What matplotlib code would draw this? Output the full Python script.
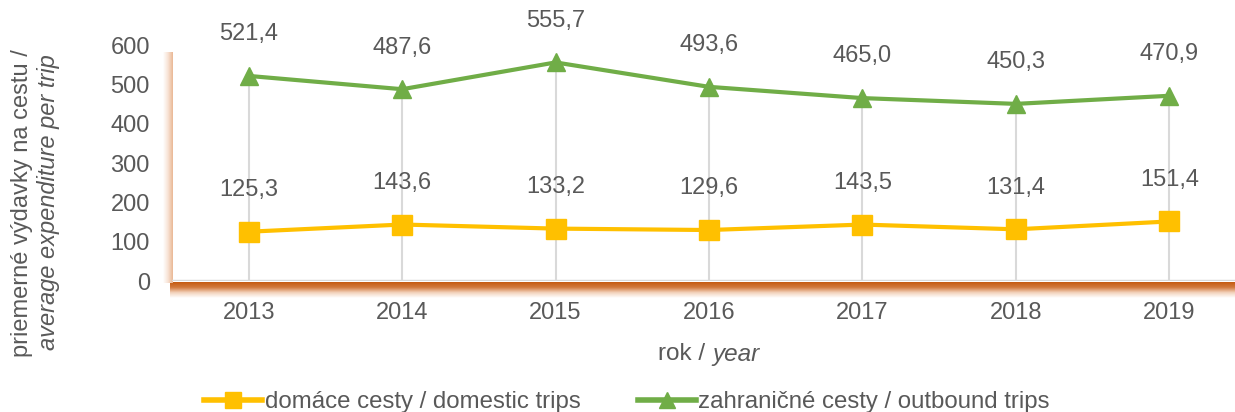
import numpy as np
import matplotlib
matplotlib.use("Agg")
import matplotlib.pyplot as plt
from matplotlib.lines import Line2D
from matplotlib.colors import LinearSegmentedColormap

plt.rcParams['font.family'] = ['Liberation Sans', 'DejaVu Sans']

# údaje
roky = ['2013', '2014', '2015', '2016', '2017', '2018', '2019']
domace = [125.3, 143.6, 133.2, 129.6, 143.5, 131.4, 151.4]
zahranicne = [521.4, 487.6, 555.7, 493.6, 465.0, 450.3, 470.9]
y_ticky = [0, 100, 200, 300, 400, 500, 600]

sivy = '#595959'
zlta = '#FFC000'
zelena = '#70AD47'

W, H = 1235, 412
fig = plt.figure(figsize=(W / 100, H / 100), dpi=100)
ax = fig.add_axes([172 / W, (H - 281) / H, 1074 / W, (281 - 45) / H])

x = np.arange(len(roky))

# zvislé spojnice (drop lines)
ax.vlines(x, 0, np.maximum(domace, zahranicne), color='#d9d9d9', lw=1.5, zorder=1)
ax.axhline(0, color='#d9d9d9', lw=2.5, zorder=1)

ax.plot(x, zahranicne, color=zelena, lw=3, marker='^', markersize=13, zorder=3)
ax.plot(x, domace, color=zlta, lw=3, marker='s', markersize=15, zorder=3)

for xi, v in zip(x, zahranicne):
    ax.annotate(f'{v:.1f}'.replace('.', ','), (xi, v), xytext=(0, 30), textcoords='offset points',
                ha='center', va='center', fontsize=17, color=sivy)
for xi, v in zip(x, domace):
    ax.annotate(f'{v:.1f}'.replace('.', ','), (xi, v), xytext=(0, 30), textcoords='offset points',
                ha='center', va='center', fontsize=17, color=sivy)

ax.set_xlim(-0.5, 6.5)
ax.set_ylim(0, 600)
ax.set_xticks(x)
ax.set_xticklabels(roky)
ax.set_yticks(y_ticky)
ax.tick_params(length=0, labelsize=17, labelcolor=sivy)
ax.tick_params(axis='y', pad=16)
ax.tick_params(axis='x', pad=15)
for s in ax.spines.values():
    s.set_visible(False)
ax.patch.set_alpha(0)

# "3D" podlaha a stena
podlaha = fig.add_axes([170 / W, (H - 298) / H, 1 - 170 / W, 16 / H], zorder=0)
cm_p = LinearSegmentedColormap.from_list('p', ['#C55A11', '#D27A3E', '#F3D3BD', '#ffffff'])
podlaha.imshow(np.linspace(0, 1, 64).reshape(-1, 1), cmap=cm_p, aspect='auto', extent=[0, 1, 0, 1])
podlaha.axis('off')

stena = fig.add_axes([163 / W, (H - 283) / H, 10 / W, (283 - 52) / H], zorder=0)
cm_s = LinearSegmentedColormap.from_list('s', ['#ffffff', '#F8E3D5', '#EAB895'])
stena.imshow(np.linspace(0, 1, 64).reshape(1, -1), cmap=cm_s, aspect='auto', extent=[0, 1, 0, 1])
stena.axis('off')
ax.set_zorder(2)

# popisy osí
fig.text(22 / W, 1 - 49 / H, 'priemerné výdavky na cestu /', rotation=90, ha='center', va='top',
         fontsize=17, color=sivy)
fig.text(49 / W, 1 - 54 / H, 'average expenditure per trip', rotation=90, ha='center', va='top',
         fontsize=17, color=sivy, style='italic')

fig.text(712 / W, 1 - 354 / H, 'rok / ', ha='right', va='center', fontsize=17.5, color=sivy)
fig.text(712 / W, 1 - 354 / H, 'year', ha='left', va='center', fontsize=17.5, color=sivy, style='italic')

# legenda
h1 = Line2D([], [], color=zlta, lw=4, marker='s', markersize=12)
h2 = Line2D([], [], color=zelena, lw=4, marker='^', markersize=11)
fig.legend([h1, h2], ['domáce cesty / domestic trips', 'zahraničné cesty / outbound trips'],
           loc='center', bbox_to_anchor=(627 / W, 1 - 402 / H), ncol=2, frameon=False,
           fontsize=17.3, labelcolor=sivy, handlelength=2.4, handletextpad=0.1, columnspacing=2.4)

fig.savefig('out.png', dpi=100)
